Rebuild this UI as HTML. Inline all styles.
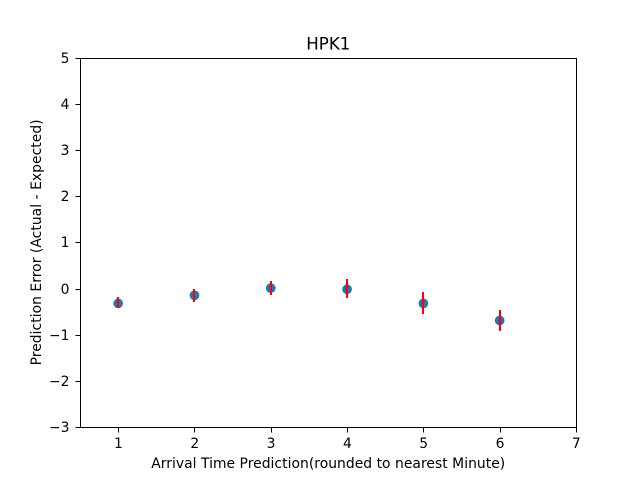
<!DOCTYPE html>
<html>
<head>
<meta charset="utf-8">
<title>HPK1</title>
<style>
html,body{margin:0;padding:0;background:#fff;width:640px;height:480px;overflow:hidden}
svg{display:block}
text{font-family:"DejaVu Sans","Liberation Sans",sans-serif;fill:#000}
</style>
</head>
<body>
<svg id="chart" width="640" height="480" viewBox="0 0 640 480" xmlns="http://www.w3.org/2000/svg">
<rect x="0" y="0" width="640" height="480" fill="#fff"/>
<g id="marks"></g>
<rect x="80.5" y="58.5" width="496" height="369" fill="none" stroke="#000" stroke-width="1" shape-rendering="crispEdges"/>
<g id="xticks"></g>
<g id="yticks"></g>
<text x="328.3" y="49.5" text-anchor="middle" font-size="16.67">HPK1</text>
<text x="328.2" y="468" text-anchor="middle" font-size="13.89" textLength="354" lengthAdjust="spacing">Arrival Time Prediction(rounded to nearest Minute)</text>
<text transform="translate(41 242.4) rotate(-90)" text-anchor="middle" font-size="13.89" textLength="246" lengthAdjust="spacing">Prediction Error (Actual - Expected)</text>
</svg>
<script>
const categories = [1, 2, 3, 4, 5, 6];
const seriesValues = [-0.32, -0.145, 0.01, -0.015, -0.32, -0.69];
const errorLow = [-0.41, -0.29, -0.14, -0.2, -0.55, -0.92];
const errorHigh = [-0.18, -0.01, 0.165, 0.21, -0.07, -0.46];
const xTickLabels = [1, 2, 3, 4, 5, 6, 7];
const yTickLabels = [-3, -2, -1, 0, 1, 2, 3, 4, 5];

const NS = 'http://www.w3.org/2000/svg';
const plot = { left: 80, right: 576, top: 57.6, bottom: 427.2 };
const xDomain = [0.5, 7];
const yDomain = [-3, 5];
function xScale(v) {
  return plot.left + (v - xDomain[0]) / (xDomain[1] - xDomain[0]) * (plot.right - plot.left);
}
function yScale(v) {
  return plot.bottom - (v - yDomain[0]) / (yDomain[1] - yDomain[0]) * (plot.bottom - plot.top);
}
function make(tag, attrs) {
  const el = document.createElementNS(NS, tag);
  for (const k in attrs) el.setAttribute(k, attrs[k]);
  return el;
}
const marks = document.getElementById('marks');
const xticks = document.getElementById('xticks');
const yticks = document.getElementById('yticks');

categories.forEach(function (c, i) {
  const dot = make('circle', { cx: xScale(c), cy: yScale(seriesValues[i]), r: 4.86, fill: '#1f77b4' });
  
  
  marks.appendChild(dot);
});
categories.forEach(function (c, i) {
  const bx = Math.round(xScale(c));
  const bar = make('line', { x1: bx, x2: bx, y1: Math.round(yScale(errorLow[i])), y2: Math.round(yScale(errorHigh[i])), stroke: '#f00', 'stroke-width': 2, 'shape-rendering': 'crispEdges' });
  
  
  marks.appendChild(bar);
});
xTickLabels.forEach(function (t) {
  const x = xScale(t);
  const px = Math.round(x) + 0.5;
  const tick = make('line', { x1: px, x2: px, y1: 427.5, y2: 432.5, stroke: '#000', 'stroke-width': 1, 'shape-rendering': 'crispEdges' });
  
  
  xticks.appendChild(tick);
  const label = make('text', { x: x + 0.3, y: 448, 'text-anchor': 'middle', 'font-size': 13.89 });
  
  
  label.textContent = String(t);
  xticks.appendChild(label);
});
yTickLabels.forEach(function (t) {
  const y = yScale(t);
  const py = Math.round(y) + 0.5;
  const tick = make('line', { x1: 75.5, x2: 80.5, y1: py, y2: py, stroke: '#000', 'stroke-width': 1, 'shape-rendering': 'crispEdges' });
  
  
  yticks.appendChild(tick);
  const label = make('text', { x: 69.5, y: Math.round(y) + 5, 'text-anchor': 'end', 'font-size': 13.89 });
  
  
  label.textContent = t < 0 ? '\u2212' + Math.abs(t) : String(t);
  yticks.appendChild(label);
});
</script>
</body>
</html>
